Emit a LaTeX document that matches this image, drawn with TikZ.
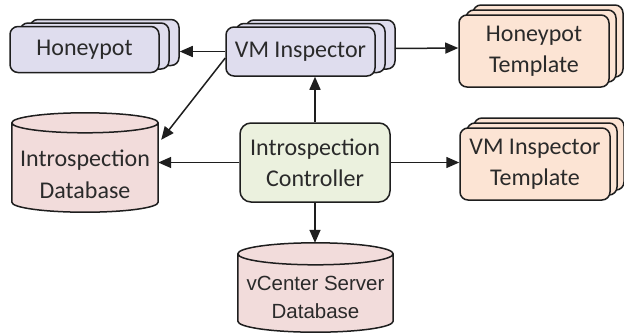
\documentclass[tikz,border=0pt]{standalone}
\usepackage{fontspec}
\setmainfont{Carlito}
\newfontfamily\arialf{Liberation Sans}
\usetikzlibrary{arrows.meta,shadows,calc,backgrounds}
\definecolor{lav}{HTML}{DFDDEE}
\definecolor{peach}{HTML}{FCE4D4}
\definecolor{mint}{HTML}{EBF1DE}
\definecolor{pinkdb}{HTML}{F2DCDB}
\definecolor{edge}{HTML}{1E1E1E}
\definecolor{txt}{HTML}{2A2A2A}
\tikzset{
  boxbase/.style={draw=edge, line width=1.5pt, rounded corners=8pt, text=txt, align=center,
    inner sep=0pt, font=\fontsize{24}{31}\selectfont},
  vmstack/.style={boxbase, fill=lav, minimum width=149pt, minimum height=46pt,
    double copy shadow={shadow xshift=10pt, shadow yshift=3.5pt}},
  tplstack/.style={boxbase, fill=peach, minimum width=150pt, minimum height=72pt,
    double copy shadow={shadow xshift=7pt, shadow yshift=5pt}},
  ctrlbox/.style={boxbase, fill=mint, minimum width=150pt, minimum height=79pt, rounded corners=11pt},
  dbbox/.style={inner sep=0pt, minimum width=#1},
  dbtext/.style={text=txt, align=center, inner sep=0pt},
  cylfill/.style={draw=edge, line width=1.5pt, fill=pinkdb},
  arr/.style={draw=edge, line width=1.5pt, -{Triangle[length=13pt,width=11pt]}},
}
\newcommand\dbcyl[2]{%
  \path[cylfill] let \p1=(#1.north west), \p2=(#1.south east), \n1={(\x2-\x1)/2} in
    (\x1,\y1-#2) -- (\x1,\y2+#2)
    arc[start angle=180,end angle=360,x radius=\n1,y radius=#2]
    -- (\x2,\y1-#2)
    arc[start angle=0,end angle=180,x radius=\n1,y radius=#2] -- cycle
    (\x1,\y1-#2) arc[start angle=180,end angle=360,x radius=\n1,y radius=#2];
}
\begin{document}
\begin{tikzpicture}[x=1pt,y=1pt]
\useasboundingbox[fill=white] (0,0) rectangle (624,-333);

% stacked boxes
\node[vmstack] (hp) at (84.5,-49.5) {Honeypot};
\node[vmstack, minimum height=49pt] (vmi) at (300.5,-51.5) {VM Inspector};
\node[tplstack] (hpt) at (534,-51) {Honeypot\\Template};
\node[tplstack] (vit) at (535,-164) {VM Inspector\\Template};
\node[ctrlbox] (ctrl) at (315,-162.5) {Introspection\\Controller};

% databases
\node[dbbox=146pt, minimum height=99pt] (idb) at (85,-162.5) {};
\node[dbbox=155pt, minimum height=89pt] (vdb) at (315.5,-287.5) {};
\dbcyl{idb}{10pt}
\dbcyl{vdb}{11pt}
\node[dbtext, font=\fontsize{24}{32}\selectfont] (idbt) at (85,-174) {Introspection\\Database};
\node[dbtext, font=\arialf\fontsize{20.5}{28}\selectfont] (vdbt) at (315.5,-297) {vCenter Server\\Database};

% connectors
\draw[arr] (vmi.west) -- ($(vmi.west -| hp.east)+(20,0)$);
\draw[arr] ($(vmi.east)+(19,3)$) -- ($(hpt.west)+(0,3)$);
\draw[arr] ($(vmi.west)+(0,-6.5)$) -- ($(idb.north east)+(3,-27)$);
\draw[arr] (ctrl.north) -- (ctrl.north |- vmi.south);
\draw[arr] (ctrl.west) -- (ctrl.west -| idb.east);
\draw[arr] (ctrl.east) -- (ctrl.east -| vit.west);
\draw[arr] (ctrl.south) -- (ctrl.south |- vdb.north);
\end{tikzpicture}
\end{document}
